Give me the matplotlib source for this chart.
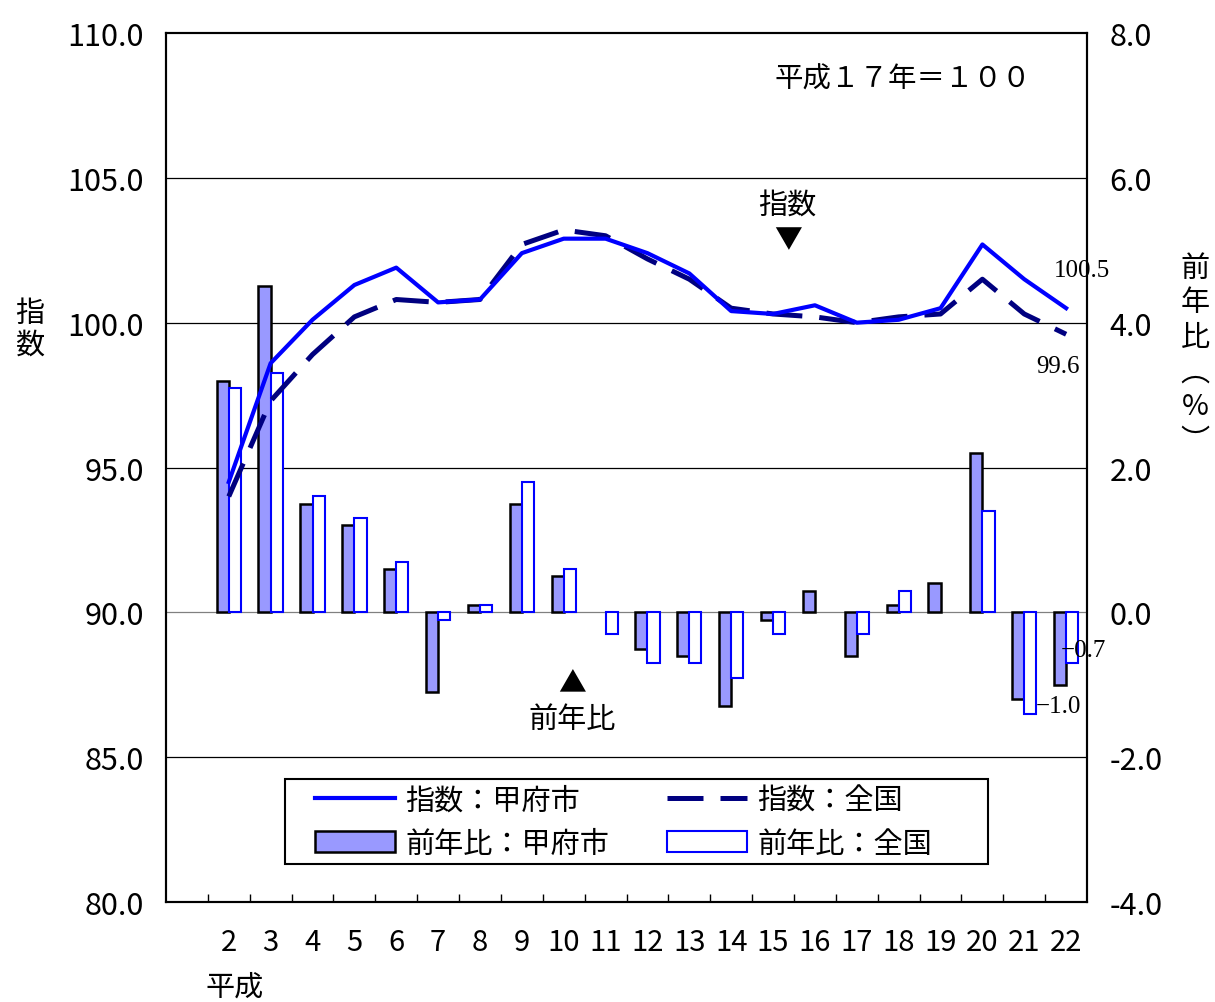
import numpy as np
import matplotlib
matplotlib.use('Agg')
import matplotlib.pyplot as plt
from matplotlib.lines import Line2D
from matplotlib.patches import Patch, Rectangle

plt.rcParams['font.family'] = ['Noto Sans CJK JP', 'DejaVu Sans']

# 平成2年〜22年
years = [str(n) for n in range(2, 23)]

# 指数 (平成17年=100)
index_kofu = [94.5, 98.6, 100.1, 101.3, 101.9, 100.7, 100.8, 102.4, 102.9, 102.9, 102.4,
              101.7, 100.4, 100.3, 100.6, 100.0, 100.1, 100.5, 102.7, 101.5, 100.5]
index_zenkoku = [94.0, 97.3, 98.9, 100.2, 100.8, 100.7, 100.8, 102.7, 103.2, 103.0, 102.2,
                 101.5, 100.5, 100.3, 100.2, 100.0, 100.2, 100.3, 101.5, 100.3, 99.6]

# 前年比 (%)
yoy_kofu = [3.2, 4.5, 1.5, 1.2, 0.6, -1.1, 0.1, 1.5, 0.5, 0.0, -0.5,
            -0.6, -1.3, -0.1, 0.3, -0.6, 0.1, 0.4, 2.2, -1.2, -1.0]
yoy_zenkoku = [3.1, 3.3, 1.6, 1.3, 0.7, -0.1, 0.1, 1.8, 0.6, -0.3, -0.7,
               -0.7, -0.9, -0.3, 0.0, -0.3, 0.3, 0.0, 1.4, -1.4, -0.7]

left_ticks = [80, 85, 90, 95, 100, 105, 110]
right_ticks = [-4, -2, 0, 2, 4, 6, 8]

fig = plt.figure(figsize=(12.15, 10.03), dpi=100)
ax2 = fig.add_axes([0.1366, 0.0997, 0.7581, 0.8664])
ax = ax2.twinx()
# index on the left, yoy on the right; lines drawn above the bars
ax.yaxis.tick_left()
ax2.yaxis.tick_right()
ax.set_zorder(3)
ax.patch.set_visible(False)

x = np.arange(1, len(years) + 1)
w = 0.29

# grid lines
for v in right_ticks[1:-1]:
    ax2.axhline(v, color='#808080' if v == 0 else 'black', lw=0.9, zorder=0)

k = np.array(yoy_kofu, dtype=float)
z = np.array(yoy_zenkoku, dtype=float)
k[k == 0] = np.nan
z[z == 0] = np.nan
ax2.bar(x - w / 2, k, w, color='#9999FF', edgecolor='black', linewidth=1.8, zorder=2)
ax2.bar(x + w / 2, z, w, color='white', edgecolor='#0000FF', linewidth=1.5, zorder=2)

ax.plot(x, index_zenkoku, color='#000080', lw=3.6, dashes=(7.2, 3.4), zorder=3)
ax.plot(x, index_kofu, color='#0000FF', lw=3.0, zorder=4)

ax.set_ylim(80, 110)
ax2.set_ylim(-4, 8)
ax.set_xlim(-0.5, len(years) + 0.5)
ax.set_yticks(left_ticks)
ax.set_yticklabels([f'{v:.1f}' for v in left_ticks])
ax2.set_yticks(right_ticks)
ax2.set_yticklabels([f'{v:.1f}' for v in right_ticks])
ax.tick_params(axis='y', length=0, pad=16, labelsize=22)
ax2.tick_params(axis='y', length=0, pad=16, labelsize=22)

ax2.set_xticks(x)
ax2.set_xticklabels(years)
ax2.set_xticks(np.arange(0.5, len(years) + 0.5, 1), minor=True)
ax2.tick_params(axis='x', which='major', length=0, pad=18, labelsize=21)
ax2.tick_params(axis='x', which='minor', direction='in', length=6, width=1)
ax.tick_params(axis='x', which='both', length=0, labelbottom=False)

for a in (ax, ax2):
    for s in a.spines.values():
        s.set_linewidth(1.5)
        s.set_color('black')

# end labels
serif = ['Liberation Serif', 'DejaVu Serif']
ax.annotate('100.5', (x[-1], index_kofu[-1]), xytext=(16, 38), textcoords='offset pixels',
            ha='center', va='center', fontsize=18, family=serif)
ax.annotate('99.6', (x[-1], index_zenkoku[-1]), xytext=(-8, -32), textcoords='offset pixels',
            ha='center', va='center', fontsize=18, family=serif)
ax2.annotate('\u22120.7', (x[-1] + w / 2, yoy_zenkoku[-1]), xytext=(-11, 13), textcoords='offset pixels',
             ha='left', va='center', fontsize=18, family=serif)
ax2.annotate('\u22121.0', (x[-1] - w / 2, yoy_kofu[-1]), xytext=(-24, -21), textcoords='offset pixels',
             ha='left', va='center', fontsize=18, family=serif)

ax.text(0.661, 0.947, '平成１７年＝１００', transform=ax.transAxes, ha='left', va='center', fontsize=20.5)
ax.text(0.674, 0.803, '指数', transform=ax.transAxes, ha='center', va='center', fontsize=21)
ax.text(0.675, 0.763, '▼', transform=ax.transAxes, ha='center', va='center', fontsize=20)
ax.text(0.441, 0.252, '▲', transform=ax.transAxes, ha='center', va='center', fontsize=20)
ax.text(0.441, 0.211, '前年比', transform=ax.transAxes, ha='center', va='center', fontsize=21)

fig.text(30 / 1215, 1 - 330 / 1003, '指\n数', ha='center', va='center', fontsize=21, linespacing=1.05)
fig.text(1195 / 1215, 1 - 355 / 1003, '前\n年\n比\n︵\n%\n︶', ha='center', va='center',
         fontsize=21, linespacing=1.2, multialignment='center')
fig.text(235 / 1215, 1 - 988 / 1003, '平成', ha='center', va='center', fontsize=21)

# legend box
fig.add_artist(Rectangle((285 / 1215, 1 - 865 / 1003), 703 / 1215, 85 / 1003,
                         transform=fig.transFigure, facecolor='white', edgecolor='black',
                         linewidth=1.5, zorder=1))
handles = [
    Line2D([], [], color='#0000FF', lw=3.0),
    Patch(facecolor='#9999FF', edgecolor='black', linewidth=1.8),
    Line2D([], [], color='#000080', lw=3.6, dashes=(7.2, 3.4)),
    Patch(facecolor='white', edgecolor='#0000FF', linewidth=1.5),
]
labels = ['指数：甲府市', '前年比：甲府市', '指数：全国', '前年比：全国']
leg = ax.legend(handles, labels, ncol=2, loc='center', bbox_to_anchor=(623.5 / 1215, 1 - 823 / 1003),
                bbox_transform=fig.transFigure, fontsize=21, frameon=False,
                handlelength=2.75, handletextpad=0.34, columnspacing=2.0,
                labelspacing=0.45, borderpad=0.0)

fig.savefig('out.png', dpi=100)
